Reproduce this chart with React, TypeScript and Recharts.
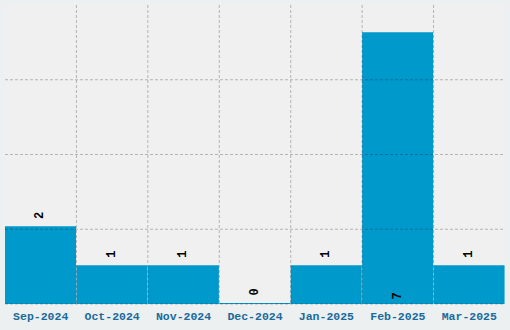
import { BarChart, Bar, XAxis, YAxis, CartesianGrid, LabelList } from 'recharts';

const months = ['Sep-2024', 'Oct-2024', 'Nov-2024', 'Dec-2024', 'Jan-2025', 'Feb-2025', 'Mar-2025'];
const counts = [2, 1, 1, 0, 1, 7, 1];
const yTicks = [0, 1.925, 3.85, 5.775, 7.7];

const data = months.map((month, i) => ({ month, count: counts[i] }));
const maxCount = Math.max(...counts);

const FONT = '"Liberation Mono", "DejaVu Sans Mono", "Courier New", monospace';

// grid lines sit on the category boundaries, not on the tick centres
const boundaryLines = (props: any) => {
  const { offset } = props;
  const step = offset.width / months.length;
  return months.slice(1).map((_, i) => offset.left + step * (i + 1));
};

// no line along the top edge
const valueLines = (props: any) => {
  const { offset } = props;
  const top = yTicks[yTicks.length - 1];
  return yTicks.slice(0, -1).map((t) => offset.top + offset.height * (1 - t / top));
};

const ValueLabel = (props: any) => {
  const { x, y, width, height, value } = props;
  const cx = x + width / 2;
  // tallest bar has no room on top, so its label goes inside at the bottom
  const cy = value === maxCount ? y + height - 8 : y - 11;
  return (
    <text
      x={cx}
      y={cy}
      transform={`rotate(-90 ${cx} ${cy})`}
      textAnchor="middle"
      dominantBaseline="central"
      fontFamily={FONT}
      fontWeight="bold"
      fontSize={12}
      fill="#000"
    >
      {value}
    </text>
  );
};

export default function App() {
  return (
    <div style={{ position: 'absolute', left: 0, top: 0, width: 510, height: 330, background: '#ecf0f1' }}>
      <BarChart
        width={510}
        height={330}
        data={data}
        margin={{ top: 5, right: 5, left: 5, bottom: 0 }}
        barCategoryGap={0}
      >
        <CartesianGrid fill="#f0f0f0" stroke="none" />
        <XAxis
          dataKey="month"
          height={26}
          axisLine={false}
          tickLine={false}
          interval={0}
          tick={{ fill: '#1a6a9c', fontFamily: FONT, fontWeight: 'bold', fontSize: 11.5 }}
          tickMargin={2}
        />
        <YAxis hide domain={[0, 7.7]} ticks={yTicks} />
        <Bar dataKey="count" fill="#0099cc" minPointSize={1} isAnimationActive={false}>
          <LabelList dataKey="count" content={ValueLabel} />
        </Bar>
        <CartesianGrid
          {...({ zIndex: 500 } as any)}
          stroke="rgba(0,0,0,0.25)"
          strokeDasharray="3 2"
          fill="none"
          verticalCoordinatesGenerator={boundaryLines}
          horizontalCoordinatesGenerator={valueLines}
        />
      </BarChart>
    </div>
  );
}
